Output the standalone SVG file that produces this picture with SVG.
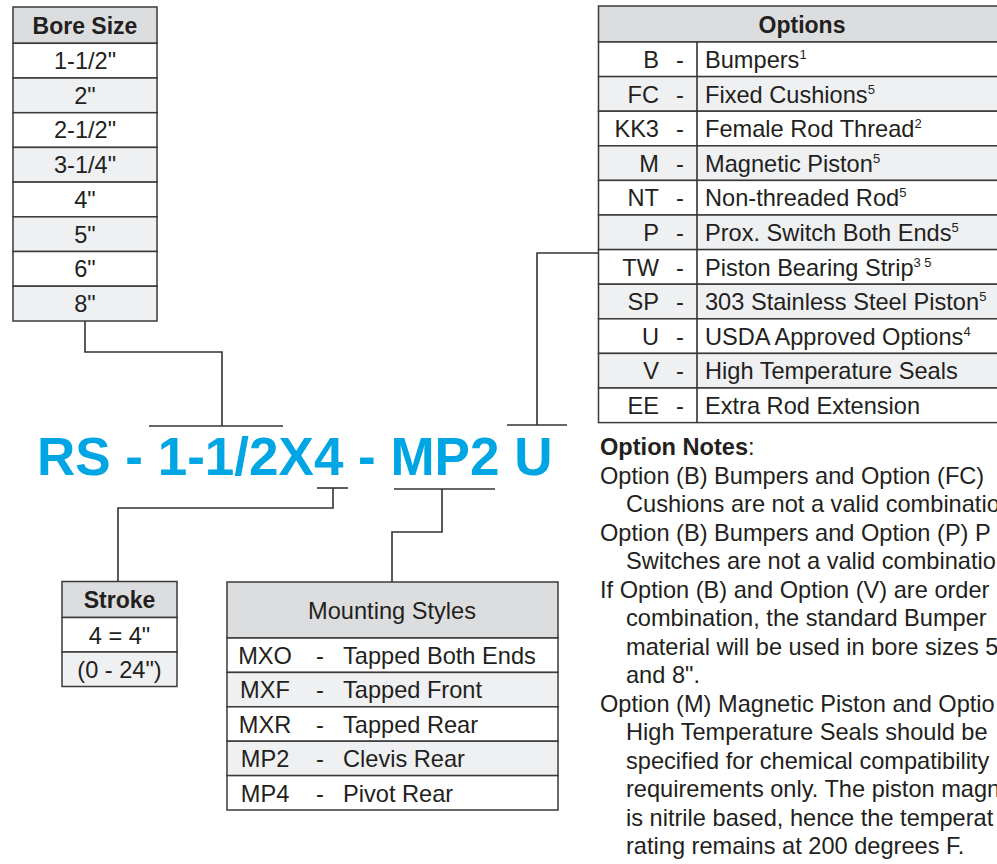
<svg xmlns="http://www.w3.org/2000/svg" width="997" height="864" viewBox="0 0 997 864">
<style>
text{font-family:"Liberation Sans",Arial,sans-serif;fill:#231f20}
.t{font-size:23.6px}
.h{font-size:23px;font-weight:bold}
.c{text-anchor:middle}
.r{text-anchor:end}
.sup{font-size:13px}
.hd{fill:#dcdddf;stroke:#3a3a3a;stroke-width:1.5}
.w{fill:#ffffff;stroke:#3a3a3a;stroke-width:1.5}
.g{fill:#eff0f2;stroke:#3a3a3a;stroke-width:1.5}
.ln{fill:none;stroke:#333;stroke-width:1.6}
.code{font-size:53px;font-weight:bold;fill:#00a6e3}
</style>
<rect width="997" height="864" fill="#ffffff"/>

<g id="bore-size">
<rect class="hd" x="13" y="7" width="144" height="36.3"/>
<rect class="w" x="13" y="43.3" width="144" height="34.7"/>
<rect class="g" x="13" y="78" width="144" height="34.7"/>
<rect class="w" x="13" y="112.7" width="144" height="34.7"/>
<rect class="g" x="13" y="147.4" width="144" height="34.7"/>
<rect class="w" x="13" y="182.1" width="144" height="34.7"/>
<rect class="g" x="13" y="216.8" width="144" height="34.7"/>
<rect class="w" x="13" y="251.5" width="144" height="34.7"/>
<rect class="g" x="13" y="286.2" width="144" height="34.8"/>
<text class="h c" x="85" y="34">Bore Size</text>
<text class="t c" x="85" y="69">1-1/2"</text>
<text class="t c" x="85" y="103.7">2"</text>
<text class="t c" x="85" y="138.4">2-1/2"</text>
<text class="t c" x="85" y="173.1">3-1/4"</text>
<text class="t c" x="85" y="207.8">4"</text>
<text class="t c" x="85" y="242.5">5"</text>
<text class="t c" x="85" y="277.2">6"</text>
<text class="t c" x="85" y="311.9">8"</text>
</g>

<g id="options">
<rect class="hd" x="598.5" y="6" width="420" height="36"/>
<rect class="w" x="598.5" y="42" width="420" height="34.6"/>
<rect class="g" x="598.5" y="76.6" width="420" height="34.6"/>
<rect class="w" x="598.5" y="111.2" width="420" height="34.6"/>
<rect class="g" x="598.5" y="145.8" width="420" height="34.6"/>
<rect class="w" x="598.5" y="180.4" width="420" height="34.6"/>
<rect class="g" x="598.5" y="215" width="420" height="34.6"/>
<rect class="w" x="598.5" y="249.6" width="420" height="34.6"/>
<rect class="g" x="598.5" y="284.2" width="420" height="34.6"/>
<rect class="w" x="598.5" y="318.8" width="420" height="34.6"/>
<rect class="g" x="598.5" y="353.4" width="420" height="34.6"/>
<rect class="w" x="598.5" y="388" width="420" height="34.6"/>
<line class="ln" x1="697" y1="42" x2="697" y2="422.6"/>
<text class="h c" x="802" y="33">Options</text>
<text class="t r" x="659" y="68">B</text><text class="t c" x="680" y="68">-</text><text class="t" x="705" y="68">Bumpers<tspan class="sup" dy="-9">1</tspan></text>
<text class="t r" x="659" y="102.6">FC</text><text class="t c" x="680" y="102.6">-</text><text class="t" x="705" y="102.6">Fixed Cushions<tspan class="sup" dy="-9">5</tspan></text>
<text class="t r" x="659" y="137.2">KK3</text><text class="t c" x="680" y="137.2">-</text><text class="t" x="705" y="137.2">Female Rod Thread<tspan class="sup" dy="-9">2</tspan></text>
<text class="t r" x="659" y="171.8">M</text><text class="t c" x="680" y="171.8">-</text><text class="t" x="705" y="171.8">Magnetic Piston<tspan class="sup" dy="-9">5</tspan></text>
<text class="t r" x="659" y="206.4">NT</text><text class="t c" x="680" y="206.4">-</text><text class="t" x="705" y="206.4">Non-threaded Rod<tspan class="sup" dy="-9">5</tspan></text>
<text class="t r" x="659" y="241">P</text><text class="t c" x="680" y="241">-</text><text class="t" x="705" y="241">Prox. Switch Both Ends<tspan class="sup" dy="-9">5</tspan></text>
<text class="t r" x="659" y="275.6">TW</text><text class="t c" x="680" y="275.6">-</text><text class="t" x="705" y="275.6">Piston Bearing Strip<tspan class="sup" dy="-9">3 5</tspan></text>
<text class="t r" x="659" y="310.2">SP</text><text class="t c" x="680" y="310.2">-</text><text class="t" x="705" y="310.2">303 Stainless Steel Piston<tspan class="sup" dy="-9">5</tspan></text>
<text class="t r" x="659" y="344.8">U</text><text class="t c" x="680" y="344.8">-</text><text class="t" x="705" y="344.8">USDA Approved Options<tspan class="sup" dy="-9">4</tspan></text>
<text class="t r" x="659" y="379.4">V</text><text class="t c" x="680" y="379.4">-</text><text class="t" x="705" y="379.4">High Temperature Seals</text>
<text class="t r" x="659" y="414">EE</text><text class="t c" x="680" y="414">-</text><text class="t" x="705" y="414">Extra Rod Extension</text>
</g>

<g id="model-code">
<text class="code" x="37" y="475">RS - 1-1/2X4 - MP2 U</text>
</g>

<g id="stroke">
<rect class="hd" x="62" y="581.5" width="115" height="36"/>
<rect class="w" x="62" y="617.5" width="115" height="34.5"/>
<rect class="g" x="62" y="652" width="115" height="34.5"/>
<text class="h c" x="119.5" y="607.5">Stroke</text>
<text class="t c" x="119.5" y="643.5">4 = 4"</text>
<text class="t c" x="119.5" y="678">(0 - 24")</text>
</g>

<g id="mounting-styles">
<rect class="hd" x="227" y="582" width="331" height="56"/>
<rect class="w" x="227" y="638" width="331" height="34.4"/>
<rect class="g" x="227" y="672.4" width="331" height="34.4"/>
<rect class="w" x="227" y="706.8" width="331" height="34.4"/>
<rect class="g" x="227" y="741.2" width="331" height="34.4"/>
<rect class="w" x="227" y="775.6" width="331" height="34.4"/>
<text class="t c" x="392" y="618.5">Mounting Styles</text>
<text class="t c" x="265" y="664">MXO</text><text class="t c" x="320" y="664">-</text><text class="t" x="343" y="664">Tapped Both Ends</text>
<text class="t c" x="265" y="698.4">MXF</text><text class="t c" x="320" y="698.4">-</text><text class="t" x="343" y="698.4">Tapped Front</text>
<text class="t c" x="265" y="732.8">MXR</text><text class="t c" x="320" y="732.8">-</text><text class="t" x="343" y="732.8">Tapped Rear</text>
<text class="t c" x="265" y="767.2">MP2</text><text class="t c" x="320" y="767.2">-</text><text class="t" x="343" y="767.2">Clevis Rear</text>
<text class="t c" x="265" y="801.6">MP4</text><text class="t c" x="320" y="801.6">-</text><text class="t" x="343" y="801.6">Pivot Rear</text>
</g>

<g id="option-notes">
<text class="t" x="600" y="455"><tspan font-weight="bold">Option Notes</tspan>:</text>
<text class="t" x="600" y="483.5">Option (B) Bumpers and Option (FC)</text>
<text class="t" x="626" y="512">Cushions are not a valid combinatio</text>
<text class="t" x="600" y="540.5">Option (B) Bumpers and Option (P) P</text>
<text class="t" x="626" y="569">Switches are not a valid combinatio</text>
<text class="t" x="600" y="597.5">If Option (B) and Option (V) are order</text>
<text class="t" x="626" y="626">combination, the standard Bumper</text>
<text class="t" x="626" y="654.5">material will be used in bore sizes 5</text>
<text class="t" x="626" y="683">and 8".</text>
<text class="t" x="600" y="711.5">Option (M) Magnetic Piston and Optio</text>
<text class="t" x="626" y="740">High Temperature Seals should be</text>
<text class="t" x="626" y="768.5">specified for chemical compatibility</text>
<text class="t" x="626" y="797">requirements only. The piston magn</text>
<text class="t" x="626" y="825.5">is nitrile based, hence the temperat</text>
<text class="t" x="626" y="854">rating remains at 200 degrees F.</text>
</g>

<g id="connectors">
<polyline class="ln" points="85,321 85,352 222,352 222,426"/>
<line class="ln" x1="149" y1="426" x2="283" y2="426"/>
<polyline class="ln" points="598,253 537,253 537,425"/>
<line class="ln" x1="507" y1="425" x2="567" y2="425"/>
<line class="ln" x1="317" y1="488" x2="348" y2="488"/>
<polyline class="ln" points="333,488 333,508 118,508 118,581.5"/>
<line class="ln" x1="394" y1="489" x2="495" y2="489"/>
<polyline class="ln" points="442,489 442,532 392,532 392,582"/>
</g>
</svg>
